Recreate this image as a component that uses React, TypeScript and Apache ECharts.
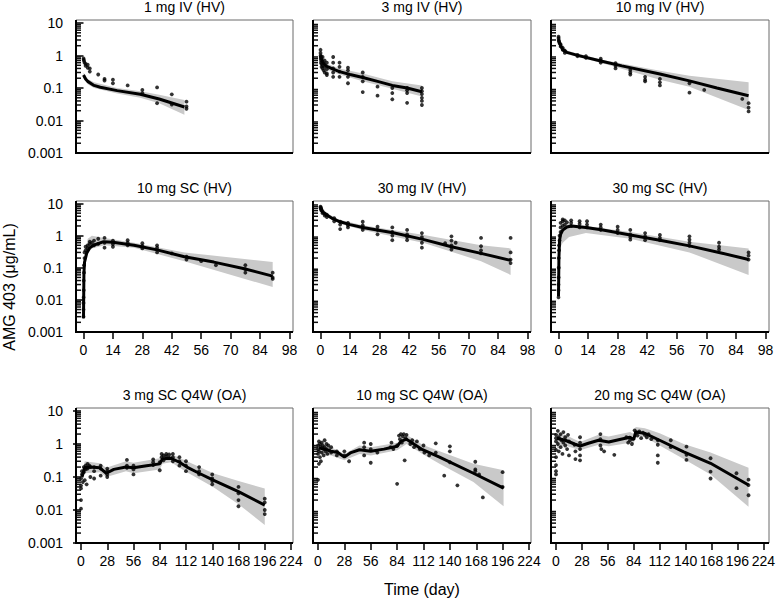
import React, { useEffect, useRef } from "react";
import * as echarts from "echarts";

const FONT = "'Liberation Sans', Arial, Helvetica, sans-serif";

const titles = [
  "1 mg IV (HV)", "3 mg IV (HV)", "10 mg IV (HV)",
  "10 mg SC (HV)", "30 mg IV (HV)", "30 mg SC (HV)",
  "3 mg SC Q4W (OA)", "10 mg SC Q4W (OA)", "20 mg SC Q4W (OA)",
];
const yTickLabels = ["0.001", "0.01", "0.1", "1", "10"];
const xLabelName = "Time (day)";
const yLabelName = "AMG 403 (\u03bcg/mL)";

// ---- 1 mg IV (HV)
const obs1 = [[0.02,0.82],[0.1,0.75],[0.25,0.68],[0.5,0.6],[1,0.55],[1,0.48],[2,0.52],[2,0.42],[3,0.4],[3,0.32],[7,0.26],[10,0.19],[10,0.17],[14,0.18],[14,0.14],[21,0.12],[28,0.087],[28,0.069],[35,0.104],[35,0.034],[42,0.064],[42,0.031],[49,0.038],[49,0.027],[49,0.023]];
const pred1 = [[0,0.25],[1,0.19],[2,0.16],[5,0.12],[8,0.105],[16,0.083],[27,0.064],[36,0.046],[48,0.026]];
const band1 = [[0,0.2,0.3],[2,0.13,0.19],[5,0.1,0.15],[16,0.068,0.1],[27,0.05,0.08],[36,0.034,0.062],[48,0.015,0.043]];
// ---- 3 mg IV (HV)
const obs2 = [[0.02,1.5],[0.02,1.2],[0.05,1.0],[0.1,0.9],[0.1,0.8],[0.25,0.7],[0.25,0.6],[0.5,0.55],[0.5,0.45],[1,0.9],[1,0.5],[1,0.4],[1.5,0.35],[2,0.7],[2,0.45],[2,0.3],[3,0.6],[3,0.38],[3,0.28],[3,0.25],[6,0.9],[6,0.6],[6,0.4],[6,0.3],[6,0.22],[9,0.6],[9,0.45],[9,0.32],[9,0.22],[13,0.42],[13,0.35],[13,0.22],[13,0.14],[20,0.3],[20,0.22],[20,0.16],[20,0.075],[27,0.11],[27,0.058],[34,0.1],[34,0.07],[34,0.045],[41,0.1],[41,0.085],[41,0.07],[41,0.035],[48,0.1],[48,0.08],[48,0.065],[48,0.05],[48,0.04],[48,0.03]];
const pred2 = [[0,1.0],[0.5,0.8],[1,0.65],[2,0.52],[3,0.46],[6,0.38],[9,0.32],[14,0.26],[20,0.21],[27,0.16],[34,0.12],[41,0.1],[48,0.077]];
const band2 = [[0,0.8,1.3],[3,0.37,0.56],[9,0.26,0.4],[20,0.16,0.28],[34,0.095,0.16],[48,0.055,0.12]];
// ---- 10 mg IV (HV)
const obs3 = [[0.02,3.8],[0.05,3.4],[0.1,3.0],[0.25,2.7],[0.5,2.4],[1,2.2],[1,1.9],[2,1.7],[2,1.5],[3,1.4],[3,1.2],[9,1.05],[9,0.95],[13,0.95],[13,0.85],[20,0.8],[20,0.7],[20,0.6],[27,0.58],[27,0.48],[27,0.4],[34,0.36],[34,0.3],[34,0.26],[41,0.22],[41,0.18],[41,0.16],[48,0.19],[48,0.15],[48,0.12],[62,0.14],[62,0.072],[69,0.087],[87,0.046],[90,0.034],[90,0.025],[90,0.019]];
const pred3 = [[0,3.0],[1,2.0],[2,1.5],[4,1.25],[8.6,1.03],[20,0.68],[30,0.48],[48,0.27],[62,0.166],[75,0.1],[90,0.058]];
const band3 = [[0,2.6,3.4],[4,1.1,1.4],[20,0.6,0.75],[48,0.18,0.34],[62,0.11,0.24],[90,0.021,0.15]];
// ---- 10 mg SC (HV)
const obs4 = [[0,0.003],[0,0.005],[0,0.008],[0.05,0.012],[0.1,0.02],[0.1,0.04],[0.25,0.07],[0.25,0.12],[0.5,0.2],[0.5,0.3],[1,0.35],[1,0.45],[2,0.5],[2,0.4],[3,0.55],[3,0.65],[4,0.6],[5,0.7],[5,0.5],[7,0.8],[7,0.55],[10,0.85],[10,0.6],[10,0.42],[14,0.7],[14,0.55],[14,0.45],[21,0.72],[21,0.6],[21,0.5],[28,0.58],[28,0.48],[28,0.4],[35,0.5],[35,0.42],[35,0.3],[42,0.28],[49,0.22],[49,0.18],[56,0.16],[63,0.12],[77,0.12],[77,0.09],[77,0.07],[90,0.07],[90,0.05],[90,0.045]];
const pred4 = [[0,0.0027],[0.2,0.067],[0.5,0.15],[1.5,0.28],[3,0.42],[5,0.51],[9.6,0.65],[14,0.62],[24,0.5],[35,0.36],[48,0.22],[62,0.15],[76,0.095],[90,0.055]];
const band4 = [[0,0.002,0.004],[0.5,0.1,0.25],[2,0.3,0.8],[4,0.4,1.0],[10,0.5,0.85],[24,0.42,0.6],[48,0.16,0.3],[90,0.025,0.15]];
// ---- 30 mg IV (HV)
const obs5 = [[0.02,8],[0.05,7.5],[0.1,7],[0.25,6.5],[0.5,6],[1,5.5],[1,5],[2,4.8],[2,4.2],[3,4.5],[3,3.8],[6.5,3.5],[6.5,2.8],[9.3,2.7],[9.3,2.2],[9.3,1.6],[13,2.5],[13,2.1],[13,1.8],[20,2.7],[20,2.1],[20,1.8],[20,1.5],[27,1.9],[27,1.5],[27,1.1],[34,1.8],[34,1.3],[34,1.0],[34,0.72],[41,1.5],[41,1.1],[41,0.9],[41,0.72],[48,1.2],[48,0.9],[48,0.6],[48,0.42],[59,0.58],[62,0.95],[62,0.7],[62,0.5],[62,0.37],[64,0.6],[76,0.85],[76,0.47],[76,0.35],[76,0.28],[90,0.85],[90,0.3],[90,0.18],[90,0.14]];
const pred5 = [[0,7.9],[1,5.5],[3,4.4],[6,3.3],[9.3,2.7],[14,2.2],[20,1.8],[35,1.2],[49,0.75],[62,0.45],[76,0.28],[90,0.17]];
const band5 = [[0,7,9],[3,3.9,5],[9,2.4,3.1],[20,1.5,2.1],[49,0.59,1.05],[76,0.16,0.5],[90,0.06,0.4]];
// ---- 30 mg SC (HV)
const obs6 = [[0,0.012],[0,0.02],[0,0.03],[0.05,0.05],[0.1,0.1],[0.1,0.2],[0.25,0.35],[0.25,0.5],[0.5,0.7],[0.5,1.0],[1,1.3],[1,1.8],[1,2.5],[2,2.0],[2,2.8],[2,3.2],[3,2.2],[3,3.0],[4,2.6],[6,3.0],[6,2.5],[6,2.0],[10,2.8],[10,2.3],[10,1.8],[13.5,2.8],[13.5,2.2],[13.5,1.8],[20,2.2],[20,1.8],[20,1.5],[28,1.9],[28,1.5],[28,1.2],[34,1.5],[34,1.1],[34,0.9],[34,0.75],[41,1.2],[41,0.95],[41,0.72],[48,1.05],[48,0.85],[48,0.72],[62,0.95],[62,0.75],[62,0.6],[62,0.48],[76,0.6],[76,0.45],[76,0.37],[90,0.3],[90,0.24],[90,0.18]];
const pred6 = [[0,0.013],[0.2,0.2],[0.5,0.72],[1,1.1],[2,1.5],[4,1.85],[6,2.0],[13,1.8],[21,1.5],[34,1.05],[48,0.72],[62,0.48],[76,0.3],[90,0.18]];
const band6 = [[0,0.01,0.02],[0.5,0.4,1.0],[2,0.6,2.0],[5,0.9,2.3],[13,1.2,2.0],[34,0.8,1.3],[62,0.3,0.65],[90,0.06,0.4]];
// ---- 3 mg SC Q4W (OA)
const obs7 = [[0,0.09],[0,0.055],[0,0.045],[0,0.02],[0,0.011],[1,0.15],[1,0.12],[2,0.07],[3,0.2],[3,0.14],[4,0.08],[5,0.22],[5,0.17],[6,0.06],[7,0.25],[7,0.18],[9,0.22],[10,0.2],[10,0.1],[14,0.2],[14,0.15],[14,0.09],[21,0.22],[21,0.18],[21,0.11],[28,0.18],[28,0.15],[28,0.12],[28,0.1],[49,0.33],[49,0.22],[49,0.19],[56,0.22],[56,0.17],[56,0.12],[77,0.34],[77,0.28],[77,0.23],[84,0.16],[84,0.28],[86,0.5],[86,0.4],[88,0.45],[88,0.32],[91,0.5],[91,0.42],[94,0.48],[94,0.38],[98,0.5],[98,0.4],[98,0.3],[105,0.4],[105,0.3],[105,0.22],[112,0.3],[112,0.22],[112,0.15],[126,0.2],[126,0.15],[126,0.12],[140,0.12],[140,0.09],[140,0.075],[140,0.06],[168,0.05],[168,0.032],[168,0.02],[168,0.013],[196,0.022],[196,0.017],[196,0.01],[196,0.0075]];
const pred7 = [[1,0.1],[4,0.19],[10,0.2],[20,0.19],[27,0.13],[35,0.17],[48,0.2],[56,0.19],[70,0.22],[84,0.25],[87,0.36],[96,0.37],[105,0.28],[113,0.2],[126,0.13],[141,0.08],[168,0.036],[196,0.014]];
const band7 = [[1,0.07,0.15],[4,0.13,0.3],[20,0.14,0.26],[27,0.1,0.19],[48,0.15,0.3],[56,0.13,0.27],[84,0.17,0.37],[87,0.25,0.5],[96,0.28,0.5],[113,0.14,0.3],[141,0.05,0.13],[168,0.015,0.075],[196,0.0035,0.045]];
// ---- 10 mg SC Q4W (OA)
const obs8 = [[0,0.9],[0,0.7],[0,0.5],[0,0.082],[1,1.2],[1,0.6],[1,0.25],[2,1.0],[2,0.4],[3,0.8],[3,0.3],[4,1.1],[4,0.55],[5,0.9],[6,0.7],[6,0.45],[7,1.3],[7,0.8],[8,0.6],[9,1.0],[9,0.7],[10,0.5],[11,0.9],[12,0.65],[14,0.8],[14,0.55],[20,0.6],[20,0.45],[28,0.6],[28,0.45],[33,0.3],[49,1.1],[49,0.8],[49,0.45],[56,1.0],[56,0.7],[56,0.27],[63,0.55],[77,0.8],[78,1.1],[80,0.7],[84,0.9],[84,0.062],[86,1.8],[87,1.4],[88,2.0],[89,1.1],[90,1.7],[91,2.0],[92,0.32],[93,1.5],[94,1.9],[98,1.0],[100,1.3],[102,0.8],[105,1.2],[108,0.7],[112,0.9],[113,0.55],[118,0.45],[125,1.05],[125,0.55],[134,0.11],[140,0.85],[140,0.6],[140,0.28],[148,0.056],[167,0.29],[167,0.17],[167,0.15],[171,0.12],[175,0.024],[196,0.14],[196,0.05]];
const pred8 = [[1,0.75],[7,0.7],[14,0.6],[21,0.55],[28,0.4],[35,0.55],[44,0.67],[56,0.6],[70,0.7],[79,0.8],[84,0.85],[88,1.2],[94,1.4],[111,0.67],[129,0.4],[165,0.13],[197,0.046]];
const band8 = [[1,0.5,1.0],[14,0.45,0.8],[28,0.32,0.5],[44,0.5,0.9],[56,0.45,0.8],[84,0.65,1.1],[94,1.0,1.9],[111,0.5,0.95],[129,0.25,0.6],[165,0.07,0.25],[197,0.013,0.16]];
// ---- 20 mg SC Q4W (OA)
const obs9 = [[0,1.9],[0,1.5],[0,1.2],[0,0.66],[0,0.4],[0,0.23],[0,0.15],[0,0.12],[2,2.5],[2,1.0],[3,1.6],[3,0.6],[5,2.0],[5,0.8],[6,1.3],[7,0.5],[8,2.3],[8,1.1],[10,1.6],[10,0.9],[12,0.7],[13,1.9],[14,1.2],[14,0.45],[20,0.95],[21,0.6],[21,0.35],[26,1.6],[26,1.1],[26,0.7],[26,0.45],[26,0.32],[48,2.0],[48,1.4],[48,0.9],[49,0.7],[52,0.6],[63,0.47],[76,1.6],[78,1.1],[80,1.3],[82,1.0],[85,2.6],[87,2.2],[88,1.8],[90,2.4],[92,1.5],[94,2.2],[96,1.9],[98,1.6],[100,2.0],[103,1.4],[110,1.3],[110,0.95],[110,0.45],[110,0.27],[124,1.3],[124,0.8],[141,0.83],[141,0.47],[141,0.33],[167,0.37],[167,0.145],[167,0.09],[195,0.13],[195,0.046],[208,0.083],[208,0.057],[208,0.028]];
const pred9 = [[1,1.5],[10,1.3],[20,1.0],[26,0.87],[35,1.05],[46,1.3],[57,1.15],[70,1.4],[80,1.6],[84,1.35],[86,2.3],[96,2.1],[112,1.3],[138,0.58],[167,0.26],[208,0.057]];
const band9 = [[1,0.75,2.1],[10,0.9,1.9],[26,0.65,1.15],[46,0.95,1.9],[57,0.85,1.7],[80,1.1,2.3],[84,1.0,2.0],[86,1.8,3.3],[96,1.6,3.0],[112,0.9,2.1],[138,0.35,1.0],[167,0.12,0.55],[208,0.0126,0.19]];

const obsAll = [obs1, obs2, obs3, obs4, obs5, obs6, obs7, obs8, obs9];
const predAll = [pred1, pred2, pred3, pred4, pred5, pred6, pred7, pred8, pred9];
const bandAll = [band1, band2, band3, band4, band5, band6, band7, band8, band9];

// log-axis minor tick positions (2..9 x each decade)
const minorDecades = [0.001, 0.01, 0.1, 1];
const minorMultipliers = [2, 3, 4, 5, 6, 7, 8, 9];
const minorTickValues: number[] = [];
minorDecades.forEach((d) => minorMultipliers.forEach((m) => minorTickValues.push(+(m * d).toPrecision(3))));

export default function App() {
  const ref = useRef<HTMLDivElement>(null);
  useEffect(() => {
    if (!ref.current) return;
    const chart = echarts.init(ref.current, null, { renderer: "svg" });
    const frameLefts = [76, 313, 551];
    const frameRights = [293, 531, 769];
    const frameTops = [20, 201, 408];
    const y10s = [23, 203.5, 411];
    const yBottoms = [153, 332, 543];

    const grid: any[] = [];
    const xAxis: any[] = [];
    const yAxis: any[] = [];
    const series: any[] = [];
    const graphic: any[] = [];

    titles.forEach((title, i) => {
      const r = Math.floor(i / 3);
      const c = i % 3;
      const oa = r === 2;
      const padL = oa ? 5 : 7.5;
      const padR = oa ? 2 : 3.5;
      const gl = frameLefts[c] + padL;
      const gr = frameRights[c] - padR;
      grid.push({ left: gl, top: y10s[r], width: gr - gl, height: yBottoms[r] - y10s[r] });
      xAxis.push({
        type: "value", gridIndex: i, min: 0, max: oa ? 224 : 98, interval: oa ? 28 : 14,
        axisLine: { show: false },
        axisTick: { show: r > 0, length: 7, lineStyle: { color: "#000", width: 1.5 } },
        axisLabel: { show: r > 0, margin: 11, fontSize: 14, color: "#000", fontFamily: FONT },
        splitLine: { show: false },
      });
      yAxis.push({
        type: "log", logBase: 10, gridIndex: i, min: 0.001, max: 10, offset: padL,
        axisLine: { show: false },
        axisTick: { show: c === 0, length: 8, lineStyle: { color: "#000", width: 1.5 } },
        axisLabel: {
          show: c === 0, margin: 13, fontSize: 14, color: "#000", fontFamily: FONT,
          formatter: (v: number) => yTickLabels[Math.round(Math.log10(v)) + 3] ?? "",
        },
        splitLine: { show: false },
        minorTick: { show: false },
      });
      const band = bandAll[i];
      series.push({
        type: "custom", xAxisIndex: i, yAxisIndex: i, silent: true, z: 1,
        data: [[band[0][0], band[0][1]]],
        renderItem: (_p: any, api: any) => {
          const up = band.map((d) => api.coord([d[0], d[2]]));
          const lo = band.map((d) => api.coord([d[0], d[1]])).reverse();
          return { type: "polygon", shape: { points: up.concat(lo) }, style: { fill: "#c9c9c9", stroke: "none" } };
        },
      });
      series.push({
        type: "line", xAxisIndex: i, yAxisIndex: i, data: predAll[i], showSymbol: false, symbol: "none",
        lineStyle: { color: "#000", width: 3 }, z: 3, clip: false, silent: true,
      });
      series.push({
        type: "scatter", xAxisIndex: i, yAxisIndex: i, data: obsAll[i], symbolSize: 3.8,
        itemStyle: { color: "#000" }, z: 4, clip: false, silent: true,
      });
      // minor log ticks drawn inward from the y-axis line (positions via the axis scale)
      series.push({
        type: "custom", xAxisIndex: i, yAxisIndex: i, silent: true, z: 20, clip: false,
        data: minorTickValues.map((v) => [0, v]),
        renderItem: (_p: any, api: any) => {
          const pt = api.coord([0, api.value(1)]);
          const x0 = pt[0] - padL + 1;
          return {
            type: "line",
            shape: { x1: x0, y1: pt[1], x2: x0 + 4, y2: pt[1] },
            style: { stroke: "#111", lineWidth: 1.5 },
          };
        },
      });

      const fl = frameLefts[c], fr = frameRights[c], ft = frameTops[r], fb = yBottoms[r];
      graphic.push({
        type: "rect", z: 0, silent: true,
        shape: { x: fl, y: ft, width: fr - fl, height: fb - ft },
        style: { fill: "transparent", stroke: "#6a6a6a", lineWidth: 1 },
      });
      graphic.push({
        type: "line", z: 0, silent: true,
        shape: { x1: fl, y1: ft, x2: fl, y2: fb + 1 },
        style: { stroke: "#000", lineWidth: 2 },
      });
      graphic.push({
        type: "line", z: 0, silent: true,
        shape: { x1: fl - 1, y1: fb, x2: fr, y2: fb },
        style: { stroke: "#000", lineWidth: 2 },
      });
      graphic.push({
        type: "text", z: 0, silent: true,
        x: (fl + fr) / 2, y: ft - 13,
        style: {
          text: title, font: `14px ${FONT}`, fill: "#000",
          textAlign: "center", textVerticalAlign: "middle", align: "center", verticalAlign: "middle",
        },
      });
    });

    graphic.push({
      type: "text", z: 0, silent: true, x: 422, y: 589,
      style: {
        text: xLabelName, font: `16px ${FONT}`, fill: "#000",
        textAlign: "center", textVerticalAlign: "middle", align: "center", verticalAlign: "middle",
      },
    });
    graphic.push({
      type: "text", z: 0, silent: true, x: 9, y: 287, rotation: Math.PI / 2,
      style: {
        text: yLabelName, font: `16px ${FONT}`, fill: "#000",
        textAlign: "center", textVerticalAlign: "middle", align: "center", verticalAlign: "middle",
      },
    });

    chart.setOption({
      animation: false,
      backgroundColor: "#fff",
      grid, xAxis, yAxis, series, graphic,
    });
    return () => chart.dispose();
  }, []);
  return (
    <div
      ref={ref}
      style={{ position: "fixed", left: 0, top: 0, width: 778, height: 598, background: "#fff" }}
    />
  );
}
